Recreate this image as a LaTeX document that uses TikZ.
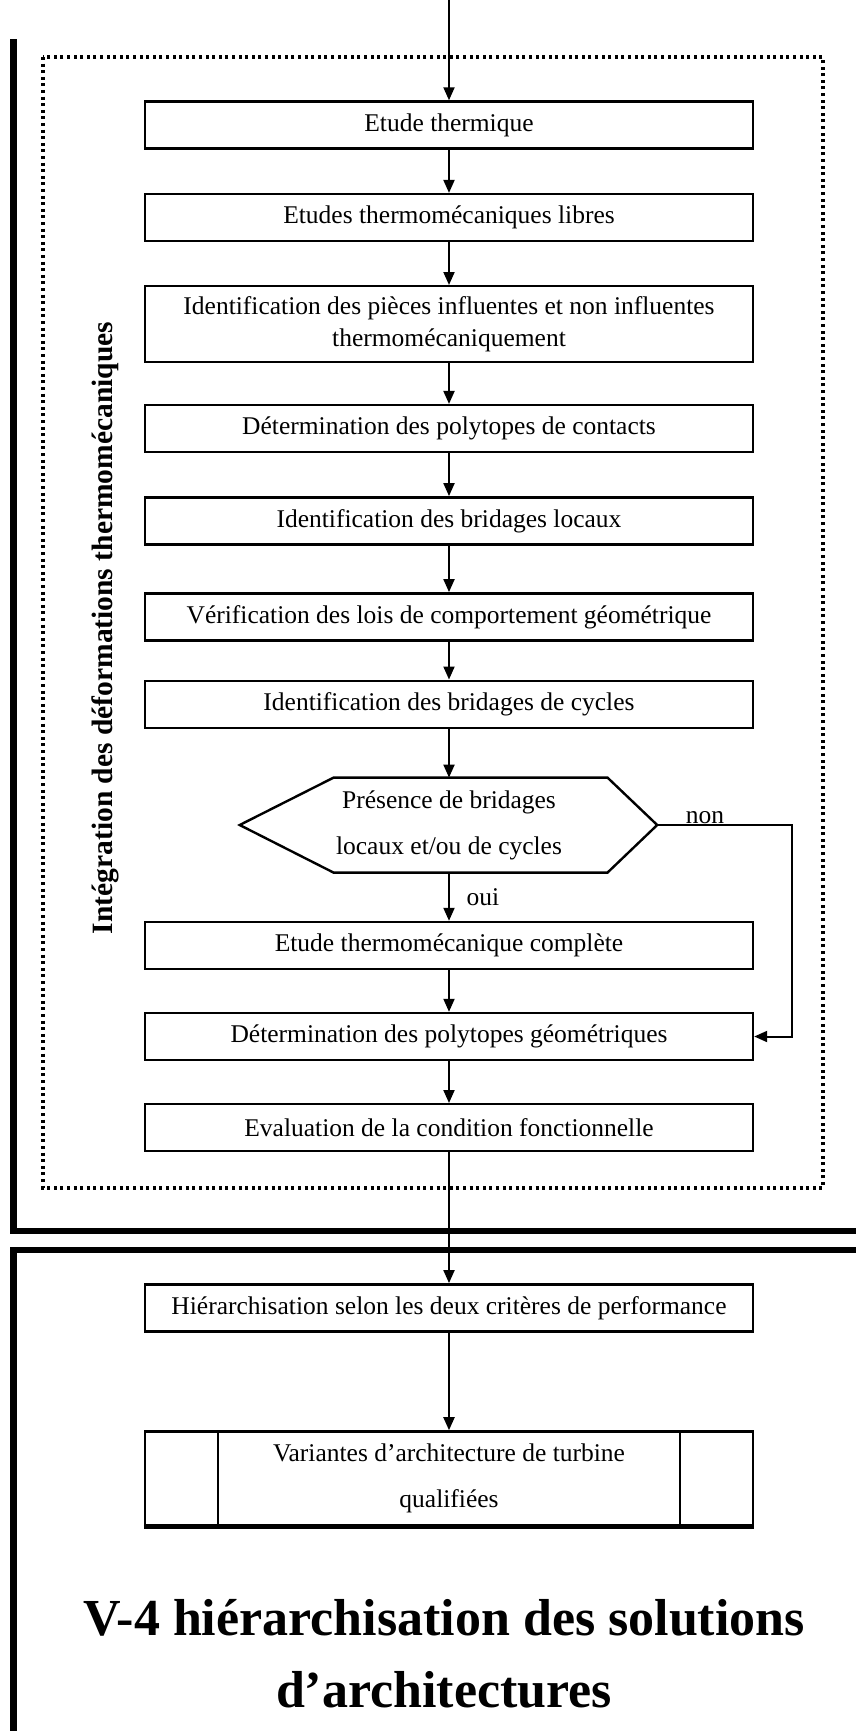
\documentclass[tikz,border=0pt]{standalone}
\usepackage{fontspec}
\setmainfont{Liberation Serif}
\usetikzlibrary{arrows.meta,calc}
\begin{document}
\begin{tikzpicture}[x=1pt,y=-1pt,
  box/.style={draw,line width=2.4pt,minimum width=608pt,minimum height=47pt,inner sep=0pt,align=center,font=\fontsize{25.5}{32}\selectfont},
  txt/.style={inner sep=0pt,font=\fontsize{25.5}{32}\selectfont},
  arr/.style={line width=2pt,-{Triangle[length=13pt,width=11pt]}},
  frame/.style={line width=6.5pt},
  dotbox/.style={line width=3.3pt,dash pattern=on 3pt off 3.6pt}]
\useasboundingbox (0,0) rectangle (856,1731);
% frames
\draw[frame] (856,1231) -| (13.3,39);
\draw[frame] (856,1250) -| (13.3,1731);
\draw[dotbox] (43,57) rectangle (823,1188);
% side label
\node[rotate=90,inner sep=0pt,font=\bfseries\fontsize{29.5}{35}\selectfont] (lab) at (105,628) {Intégration des déformations thermomécaniques};
% boxes
\node[box] (b1) at (449,125) {Etude thermique};
\node[box] (b2) at (449,217.6) {Etudes thermomécaniques libres};
\node[box,minimum height=76pt] (b3) at (449,324.2) {Identification des pièces influentes et non influentes\\thermomécaniquement};
\node[box] (b4) at (449,428.6) {Détermination des polytopes de contacts};
\node[box] (b5) at (449,520.8) {Identification des bridages locaux};
\node[box] (b6) at (449,616.8) {Vérification des lois de comportement géométrique};
\node[box] (b7) at (449,704.2) {Identification des bridages de cycles};
% hexagon
\node[txt,align=center,font=\fontsize{25.5}{46}\selectfont] (hex) at (449,825) {Présence de bridages\\locaux et/ou de cycles};
\coordinate (hexT) at (449,777.6);
\coordinate (hexB) at (449,872.6);
\coordinate (hexL) at (239.7,825);
\coordinate (hexR) at (657.2,825);
\draw[line width=2.4pt,line join=miter] (hexL) -- (333.6,777.6) -- (607.5,777.6) -- (hexR) -- (607.5,872.6) -- (333.6,872.6) -- cycle;
\node[box] (b8) at (449,945.5) {Etude thermomécanique complète};
\node[box] (b9) at (449,1036.5) {Détermination des polytopes géométriques};
\node[box] (b10) at (449,1127.7) {Evaluation de la condition fonctionnelle};
\node[box] (b11) at (449,1307.8) {Hiérarchisation selon les deux critères de performance};
\node[box,minimum height=94pt,font=\fontsize{25.5}{46}\selectfont] (b12) at (449,1478.4) {Variantes d’architecture de turbine\\qualifiées};
\draw[line width=2.4pt] (b12.north west) ++(74,0) -- ++(0,94);
\draw[line width=2.4pt] (b12.north east) ++(-74,0) -- ++(0,94);
\draw[line width=4pt] ($(b12.south west)+(0,0.8)$) -- ($(b12.south east)+(0,0.8)$);
% labels
\node[txt,anchor=base] (non) at (705,823) {non};
\node[txt] (oui) at (483,897) {oui};
% connectors
\coordinate (top) at (449,0);
\coordinate (nr) at (791.5,825);
\draw[arr] (top) -- (b1);
\draw[arr] (b1) -- (b2);
\draw[arr] (b2) -- (b3);
\draw[arr] (b3) -- (b4);
\draw[arr] (b4) -- (b5);
\draw[arr] (b5) -- (b6);
\draw[arr] (b6) -- (b7);
\draw[arr] (b7) -- (hexT);
\draw[arr] (hexB) -- (b8);
\draw[arr] (b8) -- (b9);
\draw[arr] (b9) -- (b10);
\draw[arr] (b10) -- (b11);
\draw[arr] (b11) -- (b12);
\draw[arr] (hexR) -- (nr) |- (b9.east);
% title
\node[inner sep=0pt,align=center,font=\bfseries\fontsize{52}{72}\selectfont] (title) at (444,1654) {V-4 hiérarchisation des solutions\\d’architectures};
\end{tikzpicture}
\end{document}
